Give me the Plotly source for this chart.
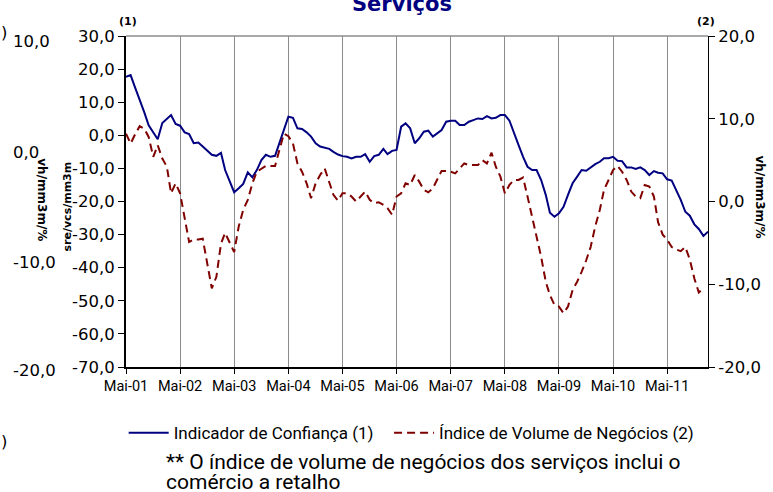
import pandas as pd
import plotly.graph_objects as go

# monthly, Mai-01 .. Fev-12
months = pd.date_range("2001-05-01", periods=130, freq="MS")

# Indicador de Confiança (1) - left axis
confianca = [
    17.7, 18.2, 14.5, 11.0, 7.0, 3.0, 1.0, -1.2, 3.7, 5.0,
    6.1, 3.4, 2.9, 0.9, 0.4, -2.4, -2.2, -3.4, -4.8, -5.9,
    -6.2, -5.3, -10.5, -14.0, -17.2, -16.0, -14.7, -11.2, -12.7, -10.5,
    -7.5, -5.9, -6.5, -6.2, -2.5, 1.5, 5.6, 5.3, 2.1, 1.9,
    0.9, -0.4, -2.4, -3.4, -3.8, -4.1, -5.0, -5.8, -6.3, -6.5,
    -7.0, -6.5, -6.5, -5.7, -8.0, -6.3, -5.9, -4.1, -5.7, -4.7,
    -4.4, 2.6, 3.6, 2.1, -2.4, -0.9, 1.1, 1.4, -0.4, 0.6,
    1.6, 4.1, 4.4, 4.4, 3.1, 3.1, 4.1, 4.6, 5.1, 4.9,
    5.8, 5.1, 5.3, 6.1, 6.1, 4.4, 0.6, -2.9, -6.5, -9.5,
    -10.5, -10.5, -13.5, -18.0, -23.4, -24.6, -23.6, -21.6, -18.0, -14.5,
    -12.5, -10.5, -10.7, -9.7, -8.7, -8.0, -6.9, -6.9, -6.5, -7.7,
    -7.8, -9.7, -9.7, -10.2, -9.7, -10.5, -12.0, -10.8, -11.3, -11.5,
    -13.3, -13.7, -16.5, -19.5, -23.1, -24.3, -26.9, -28.3, -30.4, -29.1,
]

# Índice de Volume de Negócios (2) - right axis
volume = [
    8.2, 7.0, 8.1, 9.1, 8.8, 7.8, 5.4, 6.8, 5.2, 4.2,
    1.0, 2.2, 1.0, -1.8, -4.9, -4.6, -4.6, -4.5, -7.5, -10.5,
    -9.1, -5.1, -3.8, -4.9, -6.1, -3.0, -1.0, 0.2, 2.2, 3.6,
    4.0, 4.3, 4.3, 4.3, 6.2, 8.2, 7.9, 7.0, 4.6, 3.6,
    2.2, 0.4, 2.2, 3.2, 4.0, 2.2, 0.8, 0.1, 1.0, 1.0,
    0.6, 0.0, 0.6, 1.2, 0.2, -0.2, -0.1, -0.4, -0.8, -1.6,
    0.6, 1.0, 2.2, 2.0, 3.2, 2.4, 1.4, 1.1, 1.6, 2.8,
    3.7, 3.7, 3.6, 3.4, 4.0, 4.6, 4.4, 4.4, 4.4, 5.0,
    4.6, 5.9, 4.2, 3.0, 1.0, 2.0, 2.6, 2.6, 2.9, 0.6,
    -1.8, -4.3, -6.7, -9.7, -11.3, -12.5, -12.7, -13.5, -12.7, -10.7,
    -9.7, -8.5, -7.1, -5.5, -3.0, -1.0, 1.4, 2.6, 3.8, 4.3,
    3.6, 2.6, 1.2, 0.6, 0.4, 2.0, 1.8, 0.6, -2.5, -4.0,
    -4.6, -5.5, -5.8, -6.0, -5.5, -7.0, -9.3, -11.0, -10.5, None,
]

xtick_vals = pd.date_range("2001-05-01", periods=11, freq="12MS")
xtick_text = ["Mai-01", "Mai-02", "Mai-03", "Mai-04", "Mai-05", "Mai-06",
              "Mai-07", "Mai-08", "Mai-09", "Mai-10", "Mai-11"]
y1_vals = [30, 20, 10, 0, -10, -20, -30, -40, -50, -60, -70]
y1_text = ["30,0", "20,0", "10,0", "0,0", "-10,0", "-20,0", "-30,0",
           "-40,0", "-50,0", "-60,0", "-70,0"]
y2_vals = [20, 10, 0, -10, -20]
y2_text = ["20,0", "10,0", "0,0", "-10,0", "-20,0"]

wide = "Verdana, DejaVu Sans, sans-serif"
narrow = "Tahoma, Roboto, sans-serif"

fig = go.Figure()
fig.add_trace(go.Scatter(x=months, y=confianca, mode="lines",
                         name="Indicador de Confiança (1)", legend="legend",
                         line=dict(color="#000080", width=2)))
fig.add_trace(go.Scatter(x=months, y=volume, mode="lines", yaxis="y2",
                         name="Índice de Volume de Negócios (2)", legend="legend2",
                         line=dict(color="#800000", width=2, dash="8px,5px")))

leg = dict(orientation="h", xanchor="left", y=-0.2, yanchor="middle",
           font=dict(family=narrow, size=17, color="#000"), itemwidth=40)

fig.update_layout(
    width=773, height=492,
    margin=dict(l=126, r=60, t=36, b=125),
    paper_bgcolor="white", plot_bgcolor="white",
    showlegend=True,
    legend=dict(leg, x=-0.004),
    legend2=dict(leg, x=0.452),
    xaxis=dict(type="date", range=["2001-05-01", "2012-02-01"],
               tickvals=xtick_vals, ticktext=xtick_text,
               showgrid=True, gridcolor="#8c8c8c", gridwidth=1,
               showline=True, linecolor="black", linewidth=1.5,
               ticks="outside", ticklen=5, tickcolor="black",
               tickfont=dict(family=narrow, size=14.5, color="#000"),
               zeroline=False),
    yaxis=dict(range=[-70, 30], tickvals=y1_vals, ticktext=y1_text,
               showgrid=False, zeroline=False,
               showline=True, linecolor="black", linewidth=2,
               ticks="outside", ticklen=6, tickcolor="black",
               tickfont=dict(family=wide, size=16.5, color="#000")),
    yaxis2=dict(range=[-20, 20], tickvals=y2_vals, ticktext=y2_text,
                overlaying="y", side="right", showgrid=False, zeroline=False,
                showline=True, linecolor="black", linewidth=1,
                ticks="outside", ticklen=6, tickcolor="black",
                tickfont=dict(family=wide, size=16.5, color="#000")),
)

# top border of the plot area
fig.add_shape(type="line", xref="paper", yref="paper", x0=0, x1=1, y0=1, y1=1,
              line=dict(color="#8c8c8c", width=1.5))

def note(text, px, py, xanchor="center", **kw):
    # px, py in picture pixels -> paper coords
    fig.add_annotation(text=text, xref="paper", yref="paper",
                       x=(px - 126) / 587, y=(367 - py) / 331,
                       xanchor=xanchor, yanchor="middle",
                       showarrow=False, **kw)

note("<b>Serviços</b>", 404, 4, font=dict(family=wide, size=21, color="#000080"))
note("<b>(1)</b>", 128, 21, font=dict(family=wide, size=11, color="#000"))
note("<b>(2)</b>", 711, 21, font=dict(family=wide, size=11, color="#000"))
note("<b>sre/vcs/mm3m</b>", 66, 207, textangle=-90,
     font=dict(family=wide, size=11, color="#000"))
note("<b>vh/mm3m/%</b>", 765, 197, textangle=90,
     font=dict(family=wide, size=12, color="#000"))

# pieces of the chart lying underneath, on the left
note("<b>vh/mm3m/%</b>", 41, 200, textangle=90,
     font=dict(family=wide, size=12, color="#000"))
for lab, py in [("10,0", 42), ("0,0", 152), ("-10,0", 262), ("-20,0", 371)]:
    note(lab, 10, py, xanchor="left", font=dict(family=wide, size=16.5, color="#000"))
note(")", -2, 32, xanchor="left", font=dict(family=wide, size=16.5, color="#000"))
note(")", -2, 441, xanchor="left", font=dict(family=wide, size=16.5, color="#000"))

note("** O índice de volume de negócios dos serviços inclui o", 164, 462,
     xanchor="left", font=dict(family=narrow, size=21, color="#000"))
note("comércio a retalho", 164, 482,
     xanchor="left", font=dict(family=narrow, size=21, color="#000"))

fig.write_html("out.html", config={"displayModeBar": False},
               post_script="document.body.style.margin='0';")
